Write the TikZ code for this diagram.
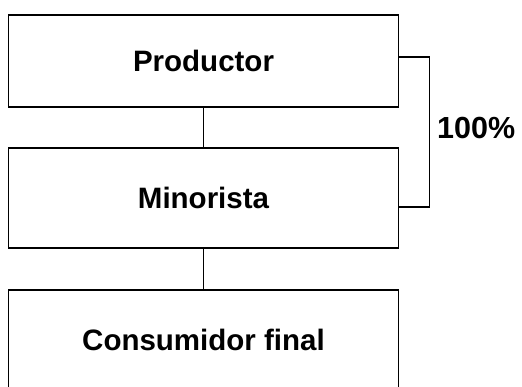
\documentclass[tikz,border=0pt]{standalone}
\usepackage{fontspec}
\setmainfont{Liberation Sans}
\usetikzlibrary{positioning}
\tikzset{
  etapa/.style={draw, line width=1.8pt, minimum width=390pt, inner sep=0pt,
    font=\fontsize{29.5}{34}\selectfont\bfseries},
  enlace/.style={line width=1.6pt}
}
\begin{document}
\begin{tikzpicture}[x=1pt,y=1pt]
        \useasboundingbox (0,0) rectangle (522,-386);
        \clip (0,0) rectangle (522,-386);
        \node[etapa, minimum height=92pt] (prod) at (203.5,-61) {Productor};
        \node[etapa, minimum height=100pt, below=39pt of prod] (mino) {Minorista};
        \node[etapa, minimum height=100pt, below=40pt of mino] (cons) {Consumidor final};
        \draw[enlace] (prod) -- (mino);
        \draw[enlace] (mino) -- (cons);
        \draw[enlace] ([yshift=4pt]prod.east) -- ++(30,0) coordinate (brk)
          |- ([yshift=-9pt]mino.east);
        \node[anchor=west, inner sep=0pt, font=\fontsize{30.5}{34}\selectfont\bfseries]
          (pct) at (437,-128) {100\%};
      \end{tikzpicture}
\end{document}
